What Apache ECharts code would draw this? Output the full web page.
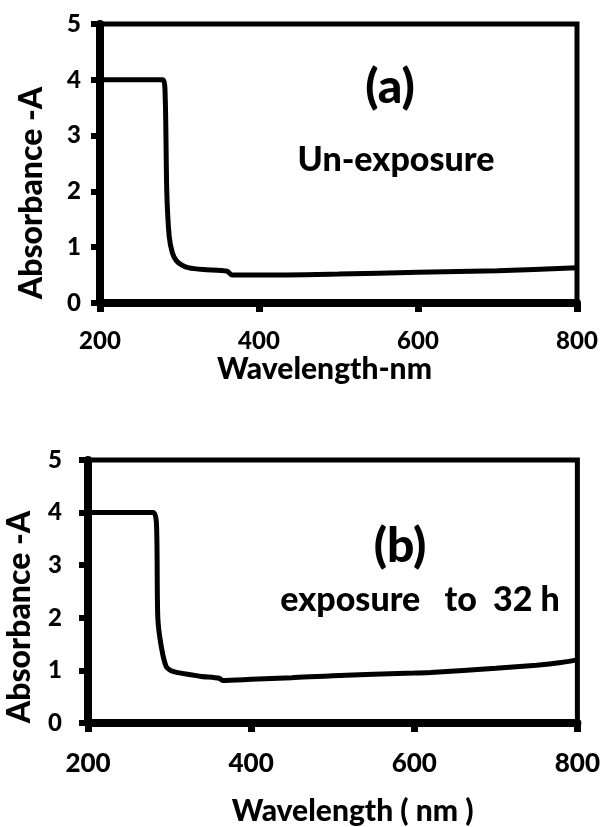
<!DOCTYPE html>
<html>
<head>
<meta charset="utf-8">
<script src="https://cdn.jsdelivr.net/npm/echarts@6/dist/echarts.min.js"></script>
<style>
  html, body { margin: 0; padding: 0; background: #fff; }
  #chart { width: 603px; height: 827px; }
</style>
</head>
<body>
<div id="chart"></div>
<script>
// (a) un-exposed sample
var wavelengthA = [200, 279, 282, 284, 287, 291, 296, 303, 312, 330, 360, 366, 400, 500, 600, 700, 800]
var absorbA     = [4.0, 4.0, 3.7, 2.0, 1.2, 0.9, 0.76, 0.68, 0.63, 0.6, 0.57, 0.5, 0.5, 0.52, 0.55, 0.58, 0.63]

// (b) exposed 32 h
var wavelengthB = [200, 280, 284, 285.6, 290, 296, 304, 337, 361, 365, 400, 450, 500, 600, 620, 700, 750, 780, 800]
var absorbB     = [4.0, 4.0, 3.76, 2.0, 1.44, 1.07, 0.98, 0.89, 0.85, 0.81, 0.83, 0.86, 0.9, 0.95, 0.96, 1.04, 1.1, 1.15, 1.2]

var xTicks = [200, 400, 600, 800]
var yTicks = [0, 1, 2, 3, 4, 5]

var font = 'Lato'
var weight = 900

function pairs(xs, ys) {
    return xs.map(function (x, i) { return [x, ys[i]] })
}

function xAxis(gridIndex, name, labelSize, labelMargin, nameGap, namePad) {
    return {
        type: 'value',
        gridIndex: gridIndex,
        min: 200, max: 800, interval: 200,
        name: name,
        nameLocation: 'middle',
        nameGap: nameGap,
        nameTextStyle: { fontFamily: font, fontWeight: weight, fontSize: 30, color: '#000', padding: namePad },
        axisLine: { show: true, lineStyle: { color: '#000', width: 8 } },
        axisTick: { show: true, inside: false, length: 9, lineStyle: { color: '#000', width: 7 } },
        axisLabel: { fontFamily: font, fontWeight: weight, fontSize: labelSize, color: '#000', margin: labelMargin,
            formatter: function (v) { return xTicks.indexOf(v) >= 0 ? v : '' } },
        splitLine: { show: false }
    }
}

function yAxis(gridIndex, labelMargin) {
    return {
        type: 'value',
        gridIndex: gridIndex,
        min: 0, max: 5, interval: 1,
        axisLine: { show: true, lineStyle: { color: '#000', width: 8 } },
        axisTick: { show: true, inside: false, length: 9, lineStyle: { color: '#000', width: 6 } },
        axisLabel: { fontFamily: font, fontWeight: weight, fontSize: 24, color: '#000', margin: labelMargin,
            formatter: function (v) { return yTicks.indexOf(v) >= 0 ? v : '' } },
        splitLine: { show: false }
    }
}

function curve(idx, data) {
    return {
        type: 'line',
        xAxisIndex: idx, yAxisIndex: idx,
        data: data,
        showSymbol: false,
        smooth: 0.25,
        lineStyle: { color: '#000', width: 5 },
        animation: false
    }
}

function label(x, y, text, size, rotate) {
    return {
        type: 'text', x: x, y: y, rotation: rotate || 0,
        style: { text: text, font: weight + ' ' + size + 'px ' + font, fill: '#000', align: 'center', verticalAlign: 'middle' }
    }
}

var chart = echarts.init(document.getElementById('chart'))
chart.setOption({
    animation: false,
    grid: [
        { left: 100, top: 24, width: 477, height: 279, show: true, borderColor: '#000', borderWidth: 5, backgroundColor: 'transparent' },
        { left: 88, top: 460, width: 492, height: 271, show: true, borderColor: '#000', borderWidth: 5, backgroundColor: 'transparent' }
    ],
    xAxis: [
        xAxis(0, 'Wavelength-nm', 24, 26, 48, [0, 28, 0, 0]),
        xAxis(1, 'Wavelength ( nm )', 26, 28, 73, [0, 0, 0, 40])
    ],
    yAxis: [
        yAxis(0, 19),
        yAxis(1, 26)
    ],
    series: [
        curve(0, pairs(wavelengthA, absorbA)),
        curve(1, pairs(wavelengthB, absorbB))
    ],
    graphic: [
        label(32, 193, 'Absorbance -A', 32, Math.PI / 2),
        label(20, 617, 'Absorbance -A', 32, Math.PI / 2),
        label(390, 88, '(a)', 48),
        label(396, 160, 'Un-exposure', 34),
        label(400, 547, '(b)', 48),
        label(420, 600, 'exposure   to  32 h', 34)
    ]
})
</script>
</body>
</html>
